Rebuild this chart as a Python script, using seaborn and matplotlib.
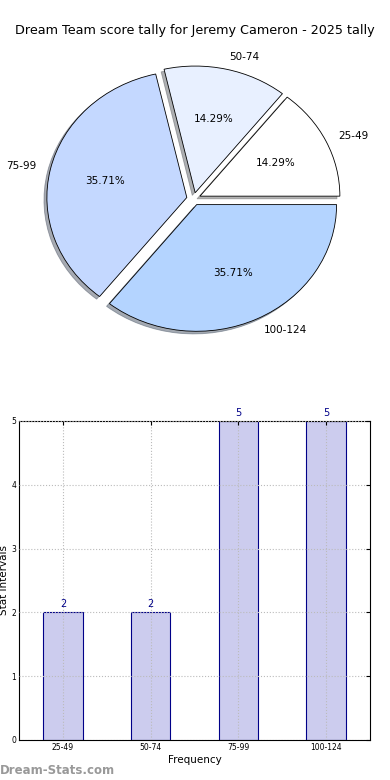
import matplotlib
matplotlib.use('Agg')
import matplotlib.pyplot as plt
import seaborn as sns
import pandas as pd

# data
intervals = ['25-49', '50-74', '75-99', '100-124']
counts = [2, 2, 5, 5]
pie_colors = ['#ffffff', '#e8f0ff', '#c4d8ff', '#b4d4ff']

sns.set_style('white')
plt.rcParams['font.family'] = ['DejaVu Sans']
plt.rcParams['text.color'] = 'black'
plt.rcParams['axes.labelcolor'] = 'black'
plt.rcParams['xtick.color'] = 'black'
plt.rcParams['ytick.color'] = 'black'

fig = plt.figure(figsize=(3.9, 7.8), dpi=100)
fig.text(0.5, 0.961, 'Dream Team score tally for Jeremy Cameron - 2025 tally',
         ha='center', va='center', fontsize=9.2)

# Pie chart
ax1 = fig.add_axes([0.048, 0.542, 0.897, 0.406])
ax1.pie(counts, labels=intervals, colors=pie_colors, autopct='%1.2f%%',
        explode=[0.05] * 4, shadow={'ox': -0.015, 'oy': -0.015, 'shade': 0.6},
        startangle=0,
        wedgeprops={'edgecolor': 'black', 'linewidth': 0.6},
        textprops={'fontsize': 7.5})
ax1.set_aspect('auto')
ax1.set_xlim(-1.25, 1.25)
ax1.set_ylim(-1.25, 1.25)
ax1.axis('off')

# Bar chart
ax2 = fig.add_axes([0.049, 0.0513, 0.9, 0.409])
df = pd.DataFrame({'interval': intervals, 'count': counts})
sns.barplot(data=df, x='interval', y='count', ax=ax2, width=0.45,
            color='#ccccee', edgecolor='#000088', linewidth=0.8, saturation=1)
for i, c in enumerate(counts):
    ax2.text(i, c + 0.05, str(c), ha='center', va='bottom', fontsize=7, color='#000088')
ax2.set_xlim(-0.5, 3.5)
ax2.set_ylim(0, 5)
ax2.set_yticks(range(6))
ax2.grid(True, linestyle=':', color='#bbbbbb', linewidth=0.8)
ax2.set_axisbelow(False)
for s in ax2.spines.values():
    s.set_visible(True)
    s.set_color('black')
    s.set_linewidth(0.8)
ax2.tick_params(axis='both', labelsize=5.5, direction='in', length=3,
                top=True, right=True, pad=2)
ax2.set_xlabel('Frequency', fontsize=7.5, labelpad=2)
ax2.set_ylabel('Stat Intervals', fontsize=7.5, labelpad=2)

fig.text(0.0, 0.012, 'Dream-Stats.com', fontsize=8.5, color='#999999',
         fontweight='bold', ha='left', va='center')

fig.savefig('out.png', dpi=100)
